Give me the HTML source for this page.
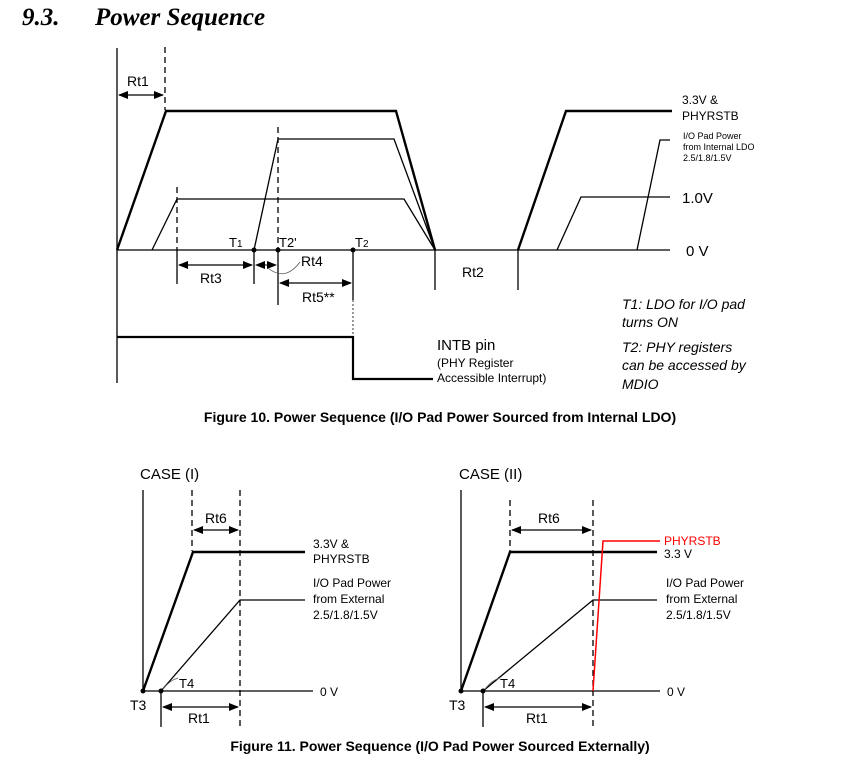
<!DOCTYPE html>
<html><head><style>
body{margin:0;background:#fff;width:865px;height:769px;overflow:hidden}
svg{display:block}
text{font-family:"Liberation Sans",Arial,sans-serif;fill:#000}
</style></head><body>
<svg width="865" height="769" viewBox="0 0 865 769" xmlns="http://www.w3.org/2000/svg">
<defs>
<marker id="a" markerWidth="10" markerHeight="8" refX="9" refY="4" orient="auto-start-reverse" markerUnits="userSpaceOnUse"><path d="M0,0 L10,4 L0,8 z" fill="#000"/></marker>
</defs>
<text x="22" y="25" style="font-family:'Liberation Serif',serif;font-weight:bold;font-style:italic;font-size:25px">9.3.</text>
<text x="95" y="25" style="font-family:'Liberation Serif',serif;font-weight:bold;font-style:italic;font-size:25px">Power Sequence</text>

<g fill="none" stroke="#000" stroke-width="1.3">
<line x1="117" y1="48" x2="117" y2="383"/>
<line x1="117" y1="250" x2="670" y2="250"/>
<polyline points="117,250 166,111 396,111 435,250" stroke-width="2.4"/>
<polyline points="254,250 278,139 394,139 435,250"/>
<polyline points="152,250 177,199 404,199 435,250"/>
<line x1="165" y1="47" x2="165" y2="110" stroke-dasharray="6,4"/>
<line x1="278" y1="127" x2="278" y2="250" stroke-dasharray="6,4"/>
<line x1="177" y1="187" x2="177" y2="250" stroke-dasharray="6,4"/>
<line x1="119" y1="95" x2="163" y2="95" marker-start="url(#a)" marker-end="url(#a)"/>
<line x1="177" y1="250" x2="177" y2="284"/>
<line x1="254" y1="250" x2="254" y2="284"/>
<line x1="278" y1="250" x2="278" y2="305"/>
<line x1="353" y1="250" x2="353" y2="300"/>
<line x1="353" y1="300" x2="353" y2="337" stroke-dasharray="2,2" stroke-width="0.8"/>
<line x1="179" y1="265" x2="252" y2="265" marker-start="url(#a)" marker-end="url(#a)"/>
<line x1="256" y1="265" x2="276" y2="265" marker-start="url(#a)" marker-end="url(#a)" stroke-width="1"/>
<line x1="280" y1="283" x2="351" y2="283" marker-start="url(#a)" marker-end="url(#a)"/>
<path d="M268,268 Q285,282 300,262" stroke-width="0.8" stroke="#555"/>
<polyline points="117,337 353,337 353,379 433,379" stroke-width="2.2"/>
<line x1="435" y1="250" x2="435" y2="290"/>
<line x1="518" y1="250" x2="518" y2="290"/>
<polyline points="518,250 566,111 672,111" stroke-width="2.4"/>
<polyline points="637,250 660,140 670,140"/>
<polyline points="557,250 581,197 670,197"/>
</g>
<g fill="#000"><circle cx="254" cy="250" r="2.5"/><circle cx="278" cy="250" r="2.5"/><circle cx="353" cy="250" r="2.5"/></g>
<text x="127" y="86" font-size="14">Rt1</text>
<text x="229" y="247" font-size="13">T<tspan font-size="10">1</tspan></text>
<text x="279" y="247" font-size="13">T2'</text>
<text x="355" y="247" font-size="13">T<tspan font-size="10">2</tspan></text>
<text x="200" y="283" font-size="14">Rt3</text>
<text x="301" y="266" font-size="14">Rt4</text>
<text x="302" y="302" font-size="14">Rt5**</text>
<text x="462" y="277" font-size="14">Rt2</text>
<text x="682" y="104" font-size="12">3.3V &amp;</text>
<text x="682" y="120" font-size="12">PHYRSTB</text>
<text x="683" y="139" font-size="9">I/O Pad Power</text>
<text x="683" y="150" font-size="9">from Internal LDO</text>
<text x="683" y="161" font-size="9">2.5/1.8/1.5V</text>
<text x="682" y="203" font-size="15">1.0V</text>
<text x="686" y="256" font-size="15">0 V</text>
<text x="437" y="350" font-size="15">INTB pin</text>
<text x="437" y="367" font-size="12">(PHY Register</text>
<text x="437" y="382" font-size="12">Accessible Interrupt)</text>
<g font-size="14" font-style="italic">
<text x="622" y="309">T1: LDO for I/O pad</text>
<text x="622" y="327">turns ON</text>
<text x="622" y="352">T2: PHY registers</text>
<text x="622" y="370">can be accessed by</text>
<text x="622" y="389">MDIO</text>
</g>
<text x="440" y="422" font-size="14" font-weight="bold" text-anchor="middle">Figure 10. Power Sequence (I/O Pad Power Sourced from Internal LDO)</text>

<!-- Case I -->
<text x="140" y="479" font-size="15">CASE (I)</text>
<g fill="none" stroke="#000" stroke-width="1.3">
<line x1="143" y1="490" x2="143" y2="691"/>
<line x1="143" y1="691" x2="313" y2="691"/>
<line x1="192" y1="490" x2="192" y2="551" stroke-dasharray="6,4"/>
<line x1="240" y1="490" x2="240" y2="727" stroke-dasharray="6,4"/>
<line x1="194" y1="530" x2="238" y2="530" marker-start="url(#a)" marker-end="url(#a)"/>
<polyline points="143,691 193,552 305,552" stroke-width="2.4"/>
<polyline points="161,691 240,600 305,600"/>
<line x1="161" y1="691" x2="161" y2="727"/>
<line x1="163" y1="707" x2="238" y2="707" marker-start="url(#a)" marker-end="url(#a)"/>
<path d="M163,689 Q170,680 178,678" stroke-width="0.8" stroke="#555"/>
</g>
<circle cx="143" cy="691" r="2.5"/><circle cx="161" cy="691" r="2.5"/>
<text x="205" y="523" font-size="14">Rt6</text>
<text x="313" y="548" font-size="12">3.3V &amp;</text>
<text x="313" y="563" font-size="12">PHYRSTB</text>
<text x="313" y="587" font-size="12">I/O Pad Power</text>
<text x="313" y="603" font-size="12">from External</text>
<text x="313" y="619" font-size="12">2.5/1.8/1.5V</text>
<text x="320" y="696" font-size="12">0 V</text>
<text x="130" y="710" font-size="14">T3</text>
<text x="179" y="688" font-size="13">T4</text>
<text x="188" y="723" font-size="14">Rt1</text>

<!-- Case II -->
<text x="459" y="479" font-size="15">CASE (II)</text>
<g fill="none" stroke="#000" stroke-width="1.3">
<line x1="461" y1="490" x2="461" y2="691"/>
<line x1="461" y1="691" x2="660" y2="691"/>
<line x1="510" y1="500" x2="510" y2="551" stroke-dasharray="6,4"/>
<line x1="593" y1="500" x2="593" y2="727" stroke-dasharray="6,4"/>
<line x1="512" y1="530" x2="591" y2="530" marker-start="url(#a)" marker-end="url(#a)"/>
<polyline points="461,691 510,552 657,552" stroke-width="2.4"/>
<polyline points="483,691 593,600 657,600"/>
<line x1="483" y1="691" x2="483" y2="727"/>
<line x1="485" y1="707" x2="591" y2="707" marker-start="url(#a)" marker-end="url(#a)"/>
<path d="M485,689 Q492,680 500,678" stroke-width="0.8" stroke="#555"/>
<polyline points="593,691 603,541 660,541" stroke="#f00" stroke-width="1.5"/>
</g>
<circle cx="461" cy="691" r="2.5"/><circle cx="483" cy="691" r="2.5"/>
<text x="538" y="523" font-size="14">Rt6</text>
<text x="664" y="545" font-size="12" style="fill:#f00">PHYRSTB</text>
<text x="664" y="558" font-size="12">3.3 V</text>
<text x="666" y="587" font-size="12">I/O Pad Power</text>
<text x="666" y="603" font-size="12">from External</text>
<text x="666" y="619" font-size="12">2.5/1.8/1.5V</text>
<text x="667" y="696" font-size="12">0 V</text>
<text x="449" y="710" font-size="14">T3</text>
<text x="500" y="688" font-size="13">T4</text>
<text x="526" y="723" font-size="14">Rt1</text>
<text x="440" y="751" font-size="14" font-weight="bold" text-anchor="middle">Figure 11. Power Sequence (I/O Pad Power Sourced Externally)</text>
</svg>
</body></html>
